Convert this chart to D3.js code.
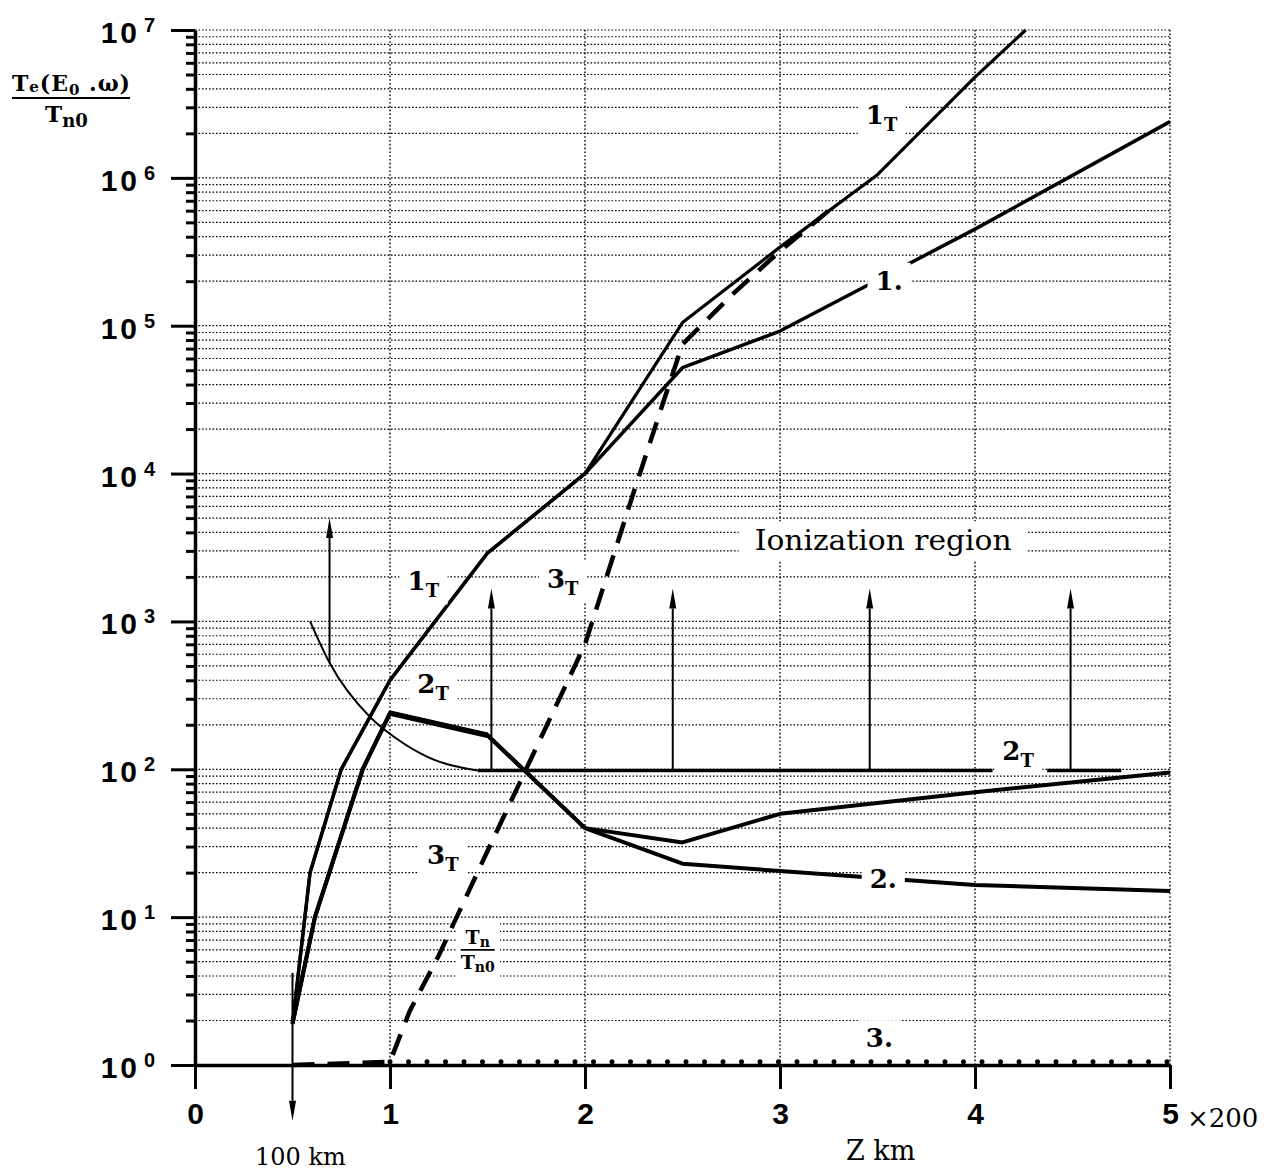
<!DOCTYPE html>
<html>
<head>
<meta charset="utf-8">
<script src="https://d3js.org/d3.v7.min.js"></script>
<style>
  body { margin: 0; background: #fff; }
  svg { display: block; background: #fff; }
</style>
</head>
<body>
<div id="chart"></div>
<script>
// values: [Z (x200 km), Te/Tn0]
var curve1T = [[0.5, 1.9], [0.59, 20], [0.75, 100], [1.0, 400], [1.5, 2900], [2.0, 1e4],
               [2.5, 1.05e5], [3.0, 3.4e5], [3.5, 1.05e6], [4.0, 4.8e6], [4.26, 1e7]];
var curve1 = [[0.5, 1.9], [0.59, 20], [0.75, 100], [1.0, 400], [1.5, 2900], [2.0, 1e4],
              [2.5, 5.2e4], [3.0, 9.2e4], [4.0, 4.5e5], [5.0, 2.4e6]];
var curve2T = [[0.5, 1.9], [0.615, 10], [0.86, 100], [1.0, 240], [1.5, 170], [2.0, 40],
               [2.5, 32], [3.0, 50], [4.0, 70], [5.0, 95]];
var curve2 = [[0.5, 1.9], [0.615, 10], [0.86, 100], [1.0, 240], [1.5, 170], [2.0, 40],
              [2.5, 23], [3.0, 20.5], [4.0, 16.5], [5.0, 15]];
var curve3T = [[0.5, 1], [1.0, 1.05], [1.1, 2.3], [1.25, 5.5], [1.5, 28], [1.75, 140], [2.0, 700],
               [2.25, 7500], [2.4, 3e4], [2.5, 7.5e4], [2.75, 1.6e5], [3.0, 3.2e5], [3.25, 6e5]];
var curve3 = [[1.0, 1.05], [5.0, 1.05]];

// ionization threshold
var threshCurve = [[0.59, 1000], [0.69, 525], [0.9, 224], [1.02, 166], [1.2, 120], [1.45, 98]];
var threshLines = [[[1.45, 98], [4.09, 98]], [[4.37, 98], [4.75, 98]]];
var ionArrows = [
  {x: 0.69, from: 525, to: 5000},
  {x: 1.52, from: 98, to: 1670},
  {x: 2.45, from: 98, to: 1670},
  {x: 3.46, from: 98, to: 1670},
  {x: 4.49, from: 98, to: 1670}
];
var kmArrow = {x: 0.5, from: 4.2, to: 0.42};

var xTicks = [0, 1, 2, 3, 4, 5];
var decades = [0, 1, 2, 3, 4, 5, 6, 7];

var curveLabels = [
  {t: "1", s: "T", x: 3.44, y: 2.3e6},
  {t: "1.", s: "", x: 3.49, y: 1.75e5},
  {t: "1", s: "T", x: 1.09, y: 1620},
  {t: "3", s: "T", x: 1.805, y: 1680},
  {t: "2", s: "T", x: 1.14, y: 327},
  {t: "3", s: "T", x: 1.19, y: 23},
  {t: "2", s: "T", x: 4.14, y: 115},
  {t: "2.", s: "", x: 3.46, y: 15.7},
  {t: "3.", s: "", x: 3.44, y: 1.32}
];

var width = 1277, height = 1174;
var serif = "'DejaVu Serif', serif";
var sans = "'Liberation Sans', Arial, sans-serif";

var svg = d3.select("#chart").append("svg")
    .attr("width", width)
    .attr("height", height);

var x = d3.scaleLinear().domain([0, 5]).range([195, 1170]);
var y = d3.scaleLog().domain([1, 1e7]).range([1065, 30]);

// grid values: 1..9 in each decade
var gridVals = [];
decades.forEach(function(k) {
  for (var m = 1; m <= 9; m++) {
    var v = m * Math.pow(10, k);
    if (v <= 1e7) gridVals.push(v);
  }
});

var grid = svg.append("g");
grid.selectAll("line.h")
  .data(gridVals.filter(function(v) { return v > 1; }))
  .enter().append("line")
    .attr("x1", x(0)).attr("x2", x(5))
    .attr("y1", function(d) { return y(d); })
    .attr("y2", function(d) { return y(d); })
    .attr("stroke", "#000").attr("stroke-width", 1.2)
    .attr("stroke-dasharray", "1.6,1.9");
grid.selectAll("line.v")
  .data(xTicks.filter(function(d) { return d > 0; }))
  .enter().append("line")
    .attr("x1", function(d) { return x(d); })
    .attr("x2", function(d) { return x(d); })
    .attr("y1", y(1)).attr("y2", y(1e7))
    .attr("stroke", "#000").attr("stroke-width", 1.4)
    .attr("stroke-dasharray", "1.6,2.2");

// axes
var yAxis = svg.append("g")
  .attr("transform", "translate(" + x(0) + ",0)")
  .call(d3.axisLeft(y).tickValues(gridVals).tickSize(9).tickSizeOuter(0).tickFormat(""));
yAxis.select(".domain").attr("stroke-width", 3.5);
yAxis.selectAll(".tick line")
  .attr("stroke-width", 3)
  .attr("x2", function(d) { return Math.abs(Math.log10(d) - Math.round(Math.log10(d))) < 1e-9 ? -24 : -9; });

var xAxis = svg.append("g")
  .attr("transform", "translate(0," + y(1) + ")")
  .call(d3.axisBottom(x).tickValues(xTicks).tickSize(24).tickSizeOuter(0).tickPadding(14).tickFormat(d3.format("d")));
xAxis.select(".domain").attr("stroke-width", 3.5);
xAxis.selectAll(".tick line").attr("stroke-width", 3);
xAxis.selectAll(".tick text")
  .attr("font-family", sans).attr("font-size", 30).attr("font-weight", "bold").attr("fill", "#000");

// y tick labels 10^k
var yLab = svg.append("g");
decades.forEach(function(k) {
  yLab.append("text")
    .attr("x", 140).attr("y", y(Math.pow(10, k)) + 13)
    .attr("text-anchor", "end")
    .attr("font-family", sans).attr("font-size", 30).attr("font-weight", "bold")
    .attr("letter-spacing", 3)
    .text("10");
  yLab.append("text")
    .attr("x", 144).attr("y", y(Math.pow(10, k)) + 2)
    .attr("font-family", sans).attr("font-size", 20).attr("font-weight", "bold")
    .text(k);
});

// curves
var line = d3.line().x(function(d) { return x(d[0]); }).y(function(d) { return y(d[1]); });
var curves = svg.append("g").attr("fill", "none").attr("stroke", "#000")
  .attr("stroke-linejoin", "round");

curves.append("path").datum(curve1).attr("d", line).attr("stroke-width", 3.5);
curves.append("path").datum(curve1T).attr("d", line).attr("stroke-width", 3.2);
curves.append("path").datum(curve2).attr("d", line).attr("stroke-width", 4);
curves.append("path").datum(curve2T).attr("d", line).attr("stroke-width", 4);
curves.append("path").datum(curve2T.filter(function(d) { return d[0] >= 1 && d[0] <= 1.5; }))
  .attr("d", line).attr("stroke-width", 5.5);
curves.append("path").datum(curve3T).attr("d", line).attr("stroke-width", 4.5)
  .attr("stroke-dasharray", "22,13");
curves.append("path").datum(curve3).attr("d", line).attr("stroke-width", 5)
  .attr("stroke-linecap", "round").attr("stroke-dasharray", "0,18.5");

// threshold curve and arrows
var thin = svg.append("g").attr("fill", "none").attr("stroke", "#000");
thin.append("path").datum(threshCurve)
  .attr("d", line.curve(d3.curveMonotoneX)).attr("stroke-width", 2);
line.curve(d3.curveLinear);
threshLines.forEach(function(seg) {
  thin.append("path").datum(seg).attr("d", line).attr("stroke-width", 3.5);
});
ionArrows.concat([kmArrow]).forEach(function(a) {
  var down = a.to < a.from;
  var tip = y(a.to), base = down ? tip - 20 : tip + 20;
  thin.append("line")
    .attr("x1", x(a.x)).attr("x2", x(a.x))
    .attr("y1", y(a.from)).attr("y2", base)
    .attr("stroke-width", 2);
  svg.append("path")
    .attr("d", "M" + x(a.x) + "," + tip + "L" + (x(a.x) - 3.5) + "," + base +
               "L" + (x(a.x) + 3.5) + "," + base + "Z")
    .attr("fill", "#000");
});

// labels with white gaps behind them
var labels = svg.append("g");
function gap(node, px, py) {
  var b = node.getBBox();
  labels.insert("rect", ":first-child")
    .attr("x", b.x - px).attr("y", b.y - py)
    .attr("width", b.width + 2 * px).attr("height", b.height + 2 * py)
    .attr("fill", "#fff");
}

curveLabels.forEach(function(l) {
  var t = labels.append("text")
    .attr("x", x(l.x)).attr("y", y(l.y))
    .attr("font-family", serif).attr("font-size", 26).attr("font-weight", "bold")
    .text(l.t);
  if (l.s) {
    t.append("tspan").attr("font-size", 18).attr("dy", 7).text(l.s);
  }
  gap(t.node(), 8, 3);
});

var ion = labels.append("text")
  .attr("x", x(2.87)).attr("y", y(3020))
  .attr("font-family", serif).attr("font-size", 27)
  .attr("textLength", 257).attr("lengthAdjust", "spacingAndGlyphs")
  .text("Ionization region");
gap(ion.node(), 16, 4);

// Tn / Tn0 fraction next to the dashed curve
var fx = x(1.45), fy = y(6.0);
var fr = labels.append("g");
fr.append("text").attr("x", fx).attr("y", fy - 6).attr("text-anchor", "middle")
  .attr("font-family", serif).attr("font-size", 19).attr("font-weight", "bold")
  .text("T").append("tspan").attr("font-size", 14).attr("dy", 3).text("n");
fr.append("line").attr("x1", fx - 17).attr("x2", fx + 17).attr("y1", fy).attr("y2", fy)
  .attr("stroke", "#000").attr("stroke-width", 1.8);
fr.append("text").attr("x", fx).attr("y", fy + 19).attr("text-anchor", "middle")
  .attr("font-family", serif).attr("font-size", 19).attr("font-weight", "bold")
  .text("T").append("tspan").attr("font-size", 14).attr("dy", 3).text("n0");
gap(fr.node(), 5, 3);

// y axis title
var yt = svg.append("g");
var numer = yt.append("text").attr("x", 12).attr("y", 91)
  .attr("font-family", serif).attr("font-size", 22).attr("font-weight", "bold")
  .attr("textLength", 118).attr("lengthAdjust", "spacing");
numer.append("tspan").text("T");
numer.append("tspan").attr("font-size", 15).attr("dy", 1).text("e");
numer.append("tspan").attr("dy", -1).text("(E");
numer.append("tspan").attr("font-size", 15).attr("dy", 4).text("0");
numer.append("tspan").attr("dy", -4).text(" .ω)");
yt.append("line").attr("x1", 12).attr("x2", 130).attr("y1", 98).attr("y2", 98)
  .attr("stroke", "#000").attr("stroke-width", 2.2);
var denom = yt.append("text").attr("x", 45).attr("y", 122)
  .attr("font-family", serif).attr("font-size", 23).attr("font-weight", "bold");
denom.append("tspan").text("T");
denom.append("tspan").attr("font-size", 18).attr("dy", 5).text("n0");

// x annotations
svg.append("text").attr("x", 1187).attr("y", 1127)
  .attr("font-family", serif).attr("font-size", 26)
  .text("×200");
svg.append("text").attr("x", 846).attr("y", 1160)
  .attr("font-family", serif).attr("font-size", 27)
  .text("Z km");
svg.append("text").attr("x", 255).attr("y", 1165)
  .attr("font-family", serif).attr("font-size", 24)
  .text("100 km");
</script>
</body>
</html>
